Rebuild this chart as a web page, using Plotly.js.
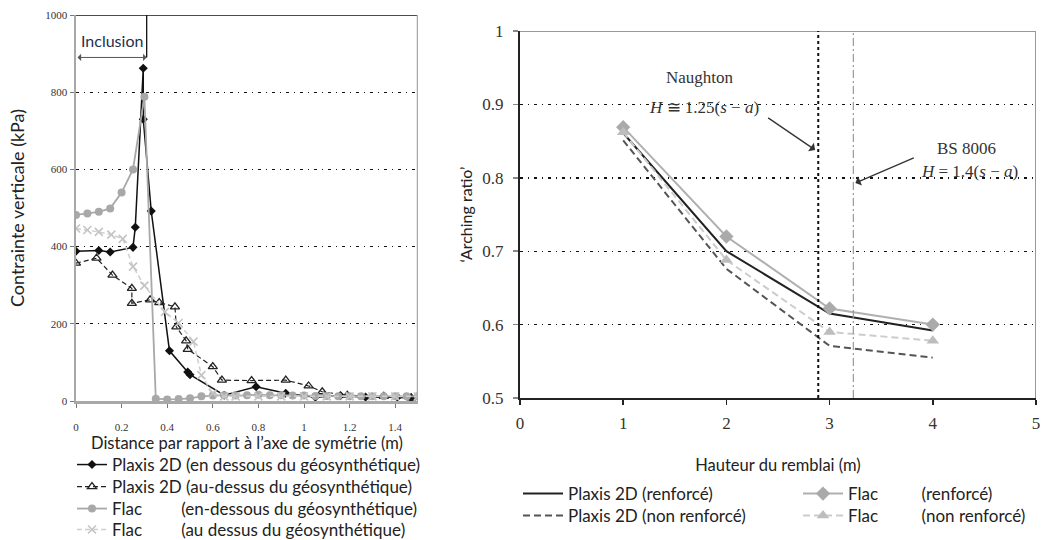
<!DOCTYPE html>
<html>
<head>
<meta charset="utf-8">
<script src="https://cdn.plot.ly/plotly-3.0.1.min.js"></script>
<style>html,body{margin:0;padding:0;background:#fff;}#chart{width:1043px;height:540px;}</style>
</head>
<body>
<div id="chart"></div>
<script>
// ---------- Left chart data ----------
const plaxisBelowX = [0, 0.1, 0.15, 0.25, 0.26, 0.295, 0.295, 0.33, 0.41, 0.49, 0.5, 0.65, 0.79, 0.92, 1.05, 1.16, 1.27, 1.41, 1.47];
const plaxisBelowY = [388, 390, 386, 398, 450, 862, 730, 492, 130, 75, 68, 15, 37, 20, 10, 14, 10, 10, 8];
const plaxisAboveX = [0, 0.09, 0.16, 0.245, 0.245, 0.325, 0.365, 0.434, 0.44, 0.483, 0.49, 0.6, 0.64, 0.77, 0.92, 1.02, 1.08, 1.19, 1.35, 1.47];
const plaxisAboveY = [357, 370, 326, 292, 253, 262, 255, 244, 192, 156, 134, 89, 54, 53, 54, 39, 24, 15, 12, 8];
const flacBelowX = [0, 0.05, 0.1, 0.15, 0.2, 0.25, 0.3, 0.35, 0.4, 0.45, 0.5, 0.55, 0.6, 0.65, 0.7, 0.75, 0.8, 0.85, 0.9, 0.95, 1.0, 1.05, 1.1, 1.15, 1.2, 1.25, 1.3, 1.35, 1.4, 1.45, 1.5];
const flacBelowY = [482, 486, 490, 499, 540, 600, 788, 6, 4, 5, 7, 12, 14, 15, 14, 15, 16, 15, 15, 14, 14, 13, 13, 12, 12, 12, 12, 12, 12, 12, 12];
const flacAboveX = [0, 0.05, 0.1, 0.155, 0.205, 0.25, 0.3, 0.39, 0.45, 0.515, 0.55, 0.6, 0.65, 0.7, 0.8, 0.9, 1.0, 1.1, 1.2, 1.3, 1.4, 1.5];
const flacAboveY = [447, 443, 438, 431, 420, 348, 299, 231, 202, 154, 67, 20, 12, 12, 12, 12, 12, 12, 12, 12, 12, 12];
const leftXTicks = [0, 0.2, 0.4, 0.6, 0.8, 1, 1.2, 1.4];
const leftYTicks = [0, 200, 400, 600, 800, 1000];
const inclusionX = 0.31;

// ---------- Right chart data ----------
const heights = [1, 2, 3, 4];
const plaxisRenf = [0.861, 0.700, 0.615, 0.592];
const plaxisNonRenf = [0.851, 0.676, 0.571, 0.555];
const flacRenf = [0.869, 0.720, 0.622, 0.600];
const flacNonRenf = [0.862, 0.688, 0.590, 0.578];
const rightXTicks = [0, 1, 2, 3, 4, 5];
const rightYTicks = [0.5, 0.6, 0.7, 0.8, 0.9, 1];
const naughtonX = 2.89;
const bsX = 3.23;

const sans = "Lato, Open Sans, sans-serif";
const serif = "Liberation Serif, DejaVu Serif, serif";
const sp = n => "\u00a0".repeat(n);

const traces = [
  {x: plaxisBelowX, y: plaxisBelowY, xaxis: 'x', yaxis: 'y', mode: 'lines+markers', name: 'Plaxis 2D (en dessous du géosynthétique)',
   line: {color: '#111', width: 1.5}, marker: {symbol: 'diamond', size: 7, color: '#111'}, legend: 'legend'},
  {x: plaxisAboveX, y: plaxisAboveY, xaxis: 'x', yaxis: 'y', mode: 'lines+markers', name: 'Plaxis 2D (au-dessus du géosynthétique)',
   line: {color: '#222', width: 1.2, dash: '5px,3px'}, marker: {symbol: 'triangle-up-open', size: 8, color: '#222', line: {width: 1.3}}, legend: 'legend4'},
  {x: flacBelowX, y: flacBelowY, xaxis: 'x', yaxis: 'y', mode: 'lines+markers', name: 'Flac' + sp(9) + '(en-dessous du géosynthétique)',
   line: {color: '#a8a8a8', width: 1.8}, marker: {symbol: 'circle', size: 8, color: '#a8a8a8'}, legend: 'legend5'},
  {x: flacAboveX, y: flacAboveY, xaxis: 'x', yaxis: 'y', mode: 'lines+markers', name: 'Flac' + sp(9) + '(au dessus du géosynthétique)',
   line: {color: '#cfcfcf', width: 1.5, dash: '5px,3px'}, marker: {symbol: 'x-thin-open', size: 8, color: '#c4c4c4', line: {width: 1.6, color: '#c4c4c4'}}, legend: 'legend6'},

  {x: heights, y: plaxisRenf, xaxis: 'x2', yaxis: 'y2', mode: 'lines', name: 'Plaxis 2D (renforcé)',
   line: {color: '#222', width: 2}, legend: 'legend2'},
  {x: heights, y: plaxisNonRenf, xaxis: 'x2', yaxis: 'y2', mode: 'lines', name: 'Plaxis 2D (non renforcé)',
   line: {color: '#555', width: 2, dash: '7px,4px'}, legend: 'legend7'},
  {x: heights, y: flacRenf, xaxis: 'x2', yaxis: 'y2', mode: 'lines+markers', name: 'Flac' + sp(10) + '(renforcé)',
   line: {color: '#b0b0b0', width: 2}, marker: {symbol: 'diamond', size: 11, color: '#aaa'}, legend: 'legend3'},
  {x: heights, y: flacNonRenf, xaxis: 'x2', yaxis: 'y2', mode: 'lines+markers', name: 'Flac' + sp(10) + '(non renforcé)',
   line: {color: '#cccccc', width: 2, dash: '7px,4px'}, marker: {symbol: 'triangle-up', size: 11, color: '#bdbdbd'}, legend: 'legend8'}
];

const tickFontL = {family: serif, size: 11, color: '#333'};
const tickFontR = {family: serif, size: 17, color: '#333'};

function leg(xpx, ypx, iw) {
  return {x: xpx/1043, y: 1 - ypx/540, xanchor: 'left', yanchor: 'middle', orientation: 'v',
    font: {family: sans, size: 17, color: '#222'}, bgcolor: 'rgba(0,0,0,0)', itemwidth: iw, borderwidth: 0};
}

const layout = {
  width: 1043, height: 540,
  margin: {l: 0, r: 0, t: 0, b: 0, autoexpand: false},
  paper_bgcolor: '#fff', plot_bgcolor: '#fff',
  showlegend: true,
  xaxis: {domain: [76/1043, 418/1043], range: [0, 1.5], tickvals: leftXTicks, showgrid: false, zeroline: false,
    showline: true, linecolor: '#a8a8a8', linewidth: 2.5, ticks: 'outside', ticklen: 4, tickcolor: '#777',
    tickfont: tickFontL, anchor: 'y', ticklabelstandoff: 10, automargin: false,
    title: {text: "Distance par rapport à l’axe de symétrie (m)", font: {family: sans, size: 16.5, color: '#222'}, standoff: 6}},
  yaxis: {domain: [1 - 401/540, 1 - 15/540], range: [0, 1000], tickvals: leftYTicks, zeroline: false,
    showgrid: true, gridcolor: '#111', griddash: '3px,5px,1px,5px', gridwidth: 1.2,
    showline: true, linecolor: '#a8a8a8', linewidth: 2.5, ticks: 'outside', ticklen: 4, tickcolor: '#777',
    tickfont: tickFontL, anchor: 'x', automargin: false,
    title: {text: 'Contrainte verticale (kPa)', font: {family: sans, size: 18, color: '#222'}, standoff: 16}},
  xaxis2: {domain: [520/1043, 1036/1043], range: [0, 5], tickvals: rightXTicks, showgrid: false, zeroline: false,
    showline: true, linecolor: '#222', linewidth: 2, ticks: 'outside', ticklen: 5, tickcolor: '#222', tickwidth: 1.5,
    tickfont: tickFontR, anchor: 'y2', ticklabelstandoff: 4, automargin: false,
    title: {text: 'Hauteur du remblai (m)', font: {family: sans, size: 16.5, color: '#222'}, standoff: 27}},
  yaxis2: {domain: [1 - 398/540, 1 - 31/540], range: [0.5, 1], tickvals: rightYTicks, ticktext: ['0.5','0.6','0.7','0.8','0.9','1'], zeroline: false,
    showgrid: true, gridcolor: '#111', griddash: '3px,5px,1px,5px', gridwidth: 1.4,
    showline: true, linecolor: '#222', linewidth: 2, ticks: 'outside', ticklen: 5, tickcolor: '#888', tickwidth: 1.5,
    tickfont: tickFontR, anchor: 'x2', ticklabelstandoff: 6, automargin: false,
    title: {text: '‘Arching ratio’', font: {family: sans, size: 16, color: '#222'}, standoff: 6}},
  legend: leg(72, 465, 30),
  legend4: leg(72, 487, 30),
  legend5: leg(72, 509, 30),
  legend6: leg(72, 530, 30),
  legend2: leg(518, 494, 40),
  legend7: leg(518, 516, 40),
  legend3: leg(798, 494, 40),
  legend8: leg(798, 516, 40),
  shapes: [
    {type: 'line', xref: 'x', yref: 'y', x0: 0, x1: 1.5, y0: 1000, y1: 1000, line: {color: '#111', width: 1.5}},
    {type: 'line', xref: 'x', yref: 'y', x0: 1.5, x1: 1.5, y0: 0, y1: 1000, line: {color: '#a8a8a8', width: 2.5}},
    {type: 'line', xref: 'x', yref: 'y', x0: inclusionX, x1: inclusionX, y0: 890, y1: 1000, line: {color: '#111', width: 1.3}},
    {type: 'line', xref: 'x2', yref: 'y2', x0: 0, x1: 5, y0: 1, y1: 1, line: {color: '#999', width: 2}},
    {type: 'line', xref: 'x2', yref: 'y2', x0: 5, x1: 5, y0: 0.5, y1: 1, line: {color: '#999', width: 2}},
    {type: 'line', xref: 'x2', yref: 'y2', x0: naughtonX, x1: naughtonX, y0: 0.5, y1: 1, line: {color: '#111', width: 2, dash: 'dot'}},
    {type: 'line', xref: 'x2', yref: 'y2', x0: bsX, x1: bsX, y0: 0.5, y1: 1, line: {color: '#999', width: 1.2, dash: '8px,3px,2px,3px'}}
  ],
  annotations: [
    {xref: 'x', yref: 'y', x: 0.16, y: 935, text: 'Inclusion', showarrow: false, font: {family: sans, size: 16, color: '#1f2f4f'}},
    {xref: 'x', yref: 'y', x: inclusionX, y: 890, ax: 0, ay: 890, axref: 'x', ayref: 'y', text: '', showarrow: true,
     arrowhead: 1, arrowside: 'end+start', arrowsize: 1.2, arrowwidth: 1, arrowcolor: '#555'},
    {xref: 'x2', yref: 'y2', x: 1.74, y: 0.936, text: 'Naughton', showarrow: false, font: {family: serif, size: 17, color: '#333'}},
    {xref: 'x2', yref: 'y2', x: 1.78, y: 0.896, text: '<i>H</i> ≅ 1.25(<i>s</i> − <i>a</i>)', showarrow: false, font: {family: serif, size: 17, color: '#333'}},
    {xref: 'x2', yref: 'y2', x: 2.86, y: 0.838, ax: 2.39, ay: 0.883, axref: 'x2', ayref: 'y2', text: '', showarrow: true,
     arrowhead: 1, arrowsize: 1.3, arrowwidth: 1.3, arrowcolor: '#333'},
    {xref: 'x2', yref: 'y2', x: 4.33, y: 0.84, text: 'BS 8006', showarrow: false, font: {family: serif, size: 17, color: '#333'}},
    {xref: 'x2', yref: 'y2', x: 4.36, y: 0.808, text: '<i>H</i> = 1.4(<i>s</i> − <i>a</i>)', showarrow: false, font: {family: serif, size: 17, color: '#333'}},
    {xref: 'x2', yref: 'y2', x: 3.25, y: 0.793, ax: 3.83, ay: 0.828, axref: 'x2', ayref: 'y2', text: '', showarrow: true,
     arrowhead: 1, arrowsize: 1.3, arrowwidth: 1.3, arrowcolor: '#333'}
  ]
};

Plotly.newPlot('chart', traces, layout, {displayModeBar: false, staticPlot: true});
</script>
</body>
</html>
